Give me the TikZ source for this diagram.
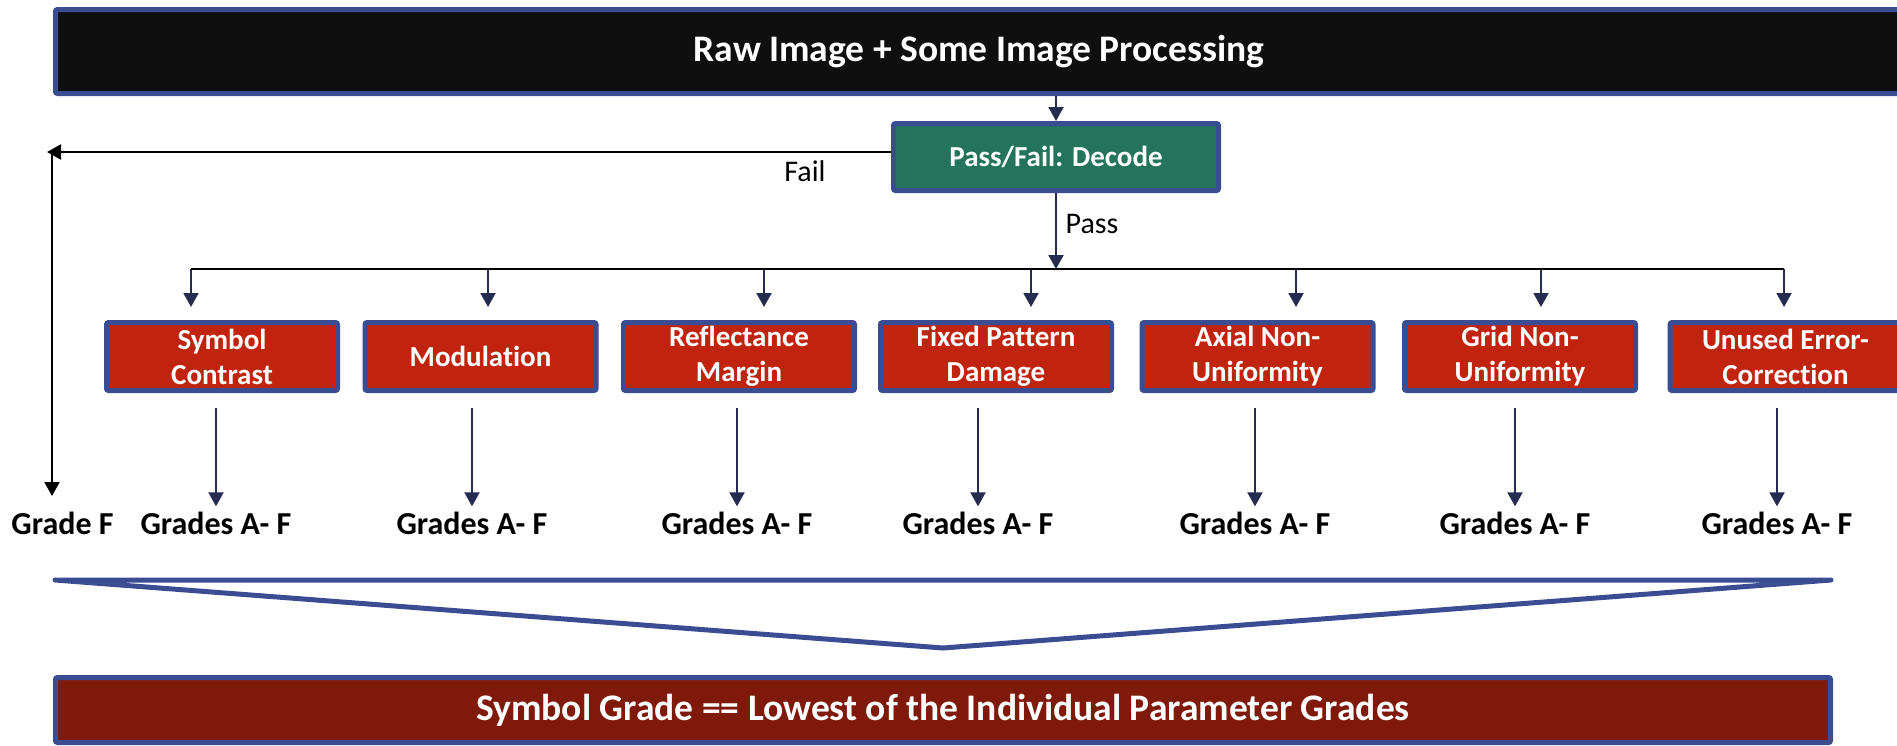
\documentclass[tikz,border=0pt]{standalone}
\usepackage{fontspec}
\setmainfont{Carlito}[Ligatures=NoCommon]
\usetikzlibrary{arrows.meta,calc}
\definecolor{bordblue}{RGB}{59,77,146}
\definecolor{titleblack}{RGB}{15,15,15}
\definecolor{decgreen}{RGB}{35,116,90}
\definecolor{parred}{RGB}{193,36,14}
\definecolor{resred}{RGB}{127,25,10}
\definecolor{navy}{RGB}{38,43,80}
\tikzset{
  box/.style={draw=bordblue, line width=5pt, inner sep=0pt, rounded corners=2pt,
    text=white, align=center, font=\bfseries\fontsize{29}{35}\selectfont},
  parbox/.style={box, fill=parred, minimum width=231pt, minimum height=68pt},
  arr/.style={draw=navy, line width=2pt, -{Triangle[width=15pt,length=14pt]}, fill=navy},
  farr/.style={draw=black, line width=2pt, -{Triangle[width=15pt,length=14pt]}},
  grade/.style={inner sep=0pt, anchor=base, font=\bfseries\fontsize{32}{38}\selectfont},
  lbl/.style={inner sep=0pt, anchor=base, font=\fontsize{30}{36}\selectfont},
}
\begin{document}
\begin{tikzpicture}[x=1pt,y=-1pt]
\useasboundingbox (0,0) rectangle (1897,745);
% title
\node[box, fill=titleblack, minimum width=1847pt, minimum height=84pt,
  font=\bfseries\fontsize{37.5}{44}\selectfont] (title) at (979,51.5) {Raw Image + Some Image Processing};
% decode
\node[box, fill=decgreen, minimum width=325pt, minimum height=67pt] (dec) at (1056,157) {Pass/Fail: Decode};
% parameter boxes
\node[parbox] (b1) at (222,356.5) {Symbol\\Contrast};
\node[parbox] (b2) at (480.5,356.5) {Modulation};
\node[parbox] (b3) at (739,356.5) {Reflectance\\Margin};
\node[parbox] (b4) at (996,356.5) {Fixed Pattern\\Damage};
\node[parbox] (b5) at (1257.5,356.5) {Axial Non-\\Uniformity};
\node[parbox] (b6) at (1520,356.5) {Grid Non-\\Uniformity};
\node[parbox] (b7) at (1785.5,356.5) {Unused Error-\\Correction};
% grade labels
\node[grade] (gf) at (62.5,534) {Grade F};
\node[grade] (g1) at (216,534) {Grades A- F};
\node[grade] (g2) at (472,534) {Grades A- F};
\node[grade] (g3) at (737,534) {Grades A- F};
\node[grade] (g4) at (978,534) {Grades A- F};
\node[grade] (g5) at (1255,534) {Grades A- F};
\node[grade] (g6) at (1515,534) {Grades A- F};
\node[grade] (g7) at (1777,534) {Grades A- F};
% result
\node[box, fill=resred, minimum width=1775pt, minimum height=65pt,
  font=\bfseries\fontsize{37.5}{44}\selectfont] (res) at (943,710) {Symbol Grade == Lowest of the Individual Parameter Grades};
% labels
\node[lbl] (fail) at (805,181) {Fail};
\node[lbl] (pass) at (1092,233) {Pass};
% coordinates
\coordinate (bus) at (0,269);
\coordinate (fc) at (52,152);
\coordinate (ftip) at (47,152);
\coordinate (gfa) at (0,496);
% title -> decode
\draw[arr] (title.south -| dec.north) -- (dec.north);
% decode -> bus
\draw[arr] (dec.south) -- (dec.south |- bus);
% fail
\draw[farr] ([yshift=5pt]dec.west) -- (ftip);
\draw[farr] (fc) -- (fc |- gfa);
% branch arrows
\foreach \i/\dx in {1/-31,2/7.5,3/25,4/35,5/38.5,6/21,7/-1.5}{
  \coordinate (t\i) at ($(b\i.north)+(\dx,-13)$);
  \draw[arr] (t\i |- bus) -- (t\i);
}
\draw[black, line width=2pt] (t1 |- bus) -- (t7 |- bus);
% lower arrows
\foreach \i in {1,...,7}{
  \draw[arr] ($(g\i.north |- b\i.south)+(0,15)$) -- ($(g\i.north)+(0,-5)$);
}
% funnel
\draw[bordblue, line width=5pt, line join=round, line cap=round]
  (55,580) -- (1831,580) -- (943,648) -- cycle;
\end{tikzpicture}
\end{document}
